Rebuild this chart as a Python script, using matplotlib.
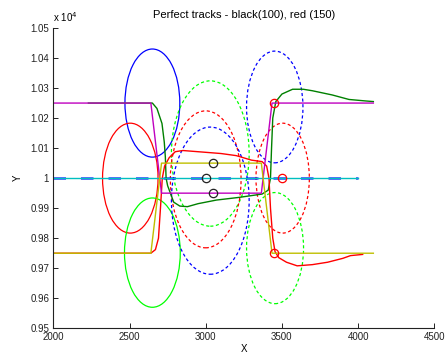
import numpy as np
import matplotlib
matplotlib.use('Agg')
import matplotlib.pyplot as plt
from matplotlib.patches import Ellipse

plt.rcParams['font.family'] = ['Liberation Sans', 'DejaVu Sans']
plt.rcParams['font.size'] = 7

# perfect tracks (cyan, magenta, yellow)
cyan_x = [2000, 4000]
cyan_y = [10000, 10000]
mag_x = [2000, 2640, 2710, 3365, 3435, 4100]
mag_y = [10250, 10250, 9950, 9950, 10250, 10250]
yel_x = [2000, 2640, 2710, 3365, 3435, 4100]
yel_y = [9750, 9750, 10050, 10050, 9750, 9750]

# estimated tracks
blue_x = [2000, 4000]
blue_y = [10001, 10001]
green_x = [2230, 2650, 2680, 2713, 2728, 2735, 2740, 2750, 2790, 2830, 2880, 2950,
           3070, 3220, 3370, 3410, 3425, 3432, 3440, 3460, 3500, 3570, 3640, 3700,
           3830, 3940, 4050, 4100]
green_y = [10250, 10250, 10232, 10182, 10120, 10071, 10000, 9975, 9920, 9907, 9905, 9915,
           9927, 9936, 9947, 9960, 10000, 10100, 10200, 10255, 10280, 10296, 10296, 10291,
           10277, 10262, 10257, 10255]
red_x = [2000, 2640, 2670, 2690, 2703, 2715, 2730, 2760, 2800, 2850, 2950, 3100, 3200, 3300,
         3370, 3400, 3415, 3425, 3440, 3455, 3480, 3530, 3600, 3700, 3800, 3900, 3950, 4030]
red_y = [9750, 9750, 9762, 9800, 9900, 10000, 10040, 10068, 10088, 10092, 10088, 10082, 10075, 10060,
         10055, 10040, 10000, 9900, 9800, 9755, 9735, 9720, 9708, 9712, 9720, 9733, 9742, 9746]

# covariance ellipses: centre x, centre y, semi-axis x, semi-axis y
ell_cx = [2650, 2505, 2650, 3030, 3000, 3030, 3453, 3505, 3455]
ell_cy = [10250, 10000, 9752, 10082, 9996, 9925, 10237, 10000, 9767]
ell_ax = [180, 182, 183, 255, 232, 255, 185, 175, 187]
ell_ay = [180, 183, 182, 242, 228, 245, 186, 183, 185]
ell_col = ['#0000ff', '#ff0000', '#00ff00', '#00ff00', '#ff0000', '#0000ff',
           '#0000ff', '#ff0000', '#00ff00']
ell_ls = ['-', '-', '-', 'd', 'd', 'd', 'd', 'd', 'd']

# detections
blk_x = [3000, 3050, 3050]
blk_y = [10000, 10050, 9950]
red_cx = [3450, 3500, 3450]
red_cy = [10250, 10000, 9750]

ytick_vals = [9500, 9600, 9700, 9800, 9900, 10000, 10100, 10200, 10300, 10400, 10500]
ytick_labs = ['0.95', '0.96', '0.97', '0.98', '0.99', '1', '1.01', '1.02', '1.03', '1.04', '1.05']
xtick_vals = [2000, 2500, 3000, 3500, 4000, 4500]

fig = plt.figure(figsize=(4.47, 3.57), dpi=100)
ax = fig.add_axes([0.1193, 0.0804, 0.8523, 0.8412])

for cx, cy, a, b, c, ls in zip(ell_cx, ell_cy, ell_ax, ell_ay, ell_col, ell_ls):
    style = '-' if ls == '-' else (0, (2.5, 2))
    e = Ellipse((cx, cy), 2 * a, 2 * b, fill=False, edgecolor=c, linewidth=0.9, linestyle=style)
    ax.add_patch(e)

ax.plot(blue_x, blue_y, color='#0000ff', lw=1.8, linestyle=(0, (5, 6)), alpha=0.8)
ax.plot(green_x, green_y, color='#008000', lw=1.0)
ax.plot(red_x, red_y, color='#ff0000', lw=1.0)
ax.plot(cyan_x, cyan_y, color='#00bfbf', lw=1.0)
ax.plot(mag_x, mag_y, color='#bf00bf', lw=1.0)
ax.plot(yel_x, yel_y, color='#bfbf00', lw=1.0)

ax.plot(blk_x, blk_y, 'o', mfc='none', mec='#222222', ms=6, mew=0.9, zorder=5)
ax.plot(red_cx, red_cy, 'o', mfc='none', mec='#ff0000', ms=6, mew=0.9, zorder=5)

ax.set_xlim(2000, 4500)
ax.set_ylim(9500, 10500)
ax.set_xticks(xtick_vals)
ax.set_yticks(ytick_vals)
ax.set_yticklabels(ytick_labs)
ax.tick_params(direction='in', length=3.5, width=0.7, pad=3, colors='#222222')
for s in ['top', 'right']:
    ax.spines[s].set_visible(False)
for s in ['left', 'bottom']:
    ax.spines[s].set_linewidth(0.8)
    ax.spines[s].set_color('#222222')

ax.set_title('Perfect tracks - black(100), red (150)', fontsize=8, pad=7)
ax.set_xlabel('X', labelpad=1)
ax.set_ylabel('Y', labelpad=5)
ax.text(0.0, 1.012, r'x 10$^{4}$', transform=ax.transAxes, ha='left', va='bottom', fontsize=7)

fig.savefig('out.png', dpi=100)
